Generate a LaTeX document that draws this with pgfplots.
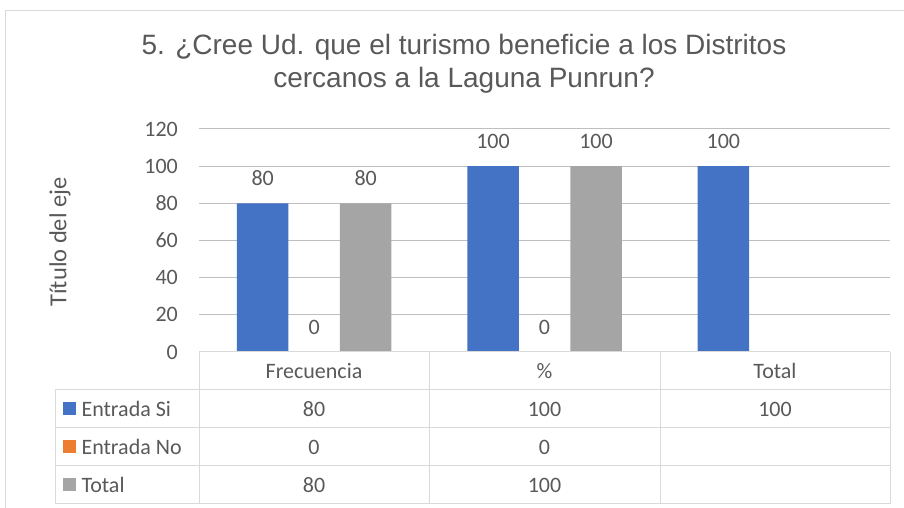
\documentclass[border=0pt]{standalone}
\usepackage{pgfplots}
\pgfplotsset{compat=1.18}
\usepackage{fontspec}
\setmainfont{Carlito}
\newfontfamily\titlefont{Liberation Sans}
\definecolor{cSi}{HTML}{4472C4}
\definecolor{cNo}{HTML}{ED7D31}
\definecolor{cTot}{HTML}{A5A5A5}
\definecolor{txt}{HTML}{595959}
\definecolor{grid}{HTML}{D9D9D9}
\begin{document}
\begin{tikzpicture}[x=1pt,y=1pt]
\useasboundingbox (0,0) rectangle (904,508);
% chart border
\draw[grid, line width=1pt] (5,0) -- (5,497) -- (904,497);
% title
\node[text=txt, font={\titlefont\fontsize{28}{33}\selectfont}, align=center] at (464,444.5)
  {5. ¿Cree Ud. que el turismo beneficie a los Distritos\\cercanos a la Laguna Punrun?};
% y label
\node[rotate=90, text=txt, font={\fontsize{24.5}{28}\selectfont}] at (60,266) {Título del eje};
\begin{axis}[
  at={(199pt,156pt)}, anchor=south west,
  scale only axis, width=691pt, height=223pt,
  xmin=-0.5, xmax=2.5, ymin=0, ymax=120,
  ytick={0,20,...,120}, xtick=\empty,
  ymajorgrids, grid style={grid, line width=1pt},
  axis line style={draw=none}, major tick length=0pt,
  yticklabel style={text=txt, font={\fontsize{22}{26}\selectfont}, anchor=east, inner sep=0pt, xshift=-21pt},
  /pgf/number format/assume math mode=true,
  ybar=0pt, bar width=51.5pt,
  nodes near coords,
  nodes near coords style={text=txt, font={\fontsize{22}{26}\selectfont}, anchor=center, yshift=25pt},
  clip=false,
]
\addplot[fill=cSi, draw=none] coordinates {(0,80) (1,100) (2,100)};
\addplot[fill=cNo, draw=none] coordinates {(0,0) (1,0)};
\addplot[fill=cTot, draw=none] coordinates {(0,80) (1,100)};
\end{axis}
% data table
\begin{scope}[grid, line width=1pt]
\draw (199,156) -- (890,156);
\foreach \y in {118,80,42,4} \draw (55,\y) -- (890,\y);
\foreach \x in {199,429,660,890} \draw (\x,156) -- (\x,4);
\draw (55,118) -- (55,4);
\end{scope}
\begin{scope}[every node/.style={text=txt, font={\fontsize{22}{26}\selectfont}}]
\node at (314,137) {Frecuencia};
\node at (544.5,137) {\%};
\node at (775,137) {Total};
\fill[cSi] (63,93) rectangle (76,106);
\fill[cNo] (63,55) rectangle (76,68);
\fill[cTot] (63,17) rectangle (76,30);
\node[anchor=west] at (78,99) {Entrada Si};
\node[anchor=west] at (78,61) {Entrada No};
\node[anchor=west] at (78,23) {Total};
\node at (314,99) {80};
\node at (544.5,99) {100};
\node at (775,99) {100};
\node at (314,61) {0};
\node at (544.5,61) {0};
\node at (314,23) {80};
\node at (544.5,23) {100};
\end{scope}
\end{tikzpicture}
\end{document}
